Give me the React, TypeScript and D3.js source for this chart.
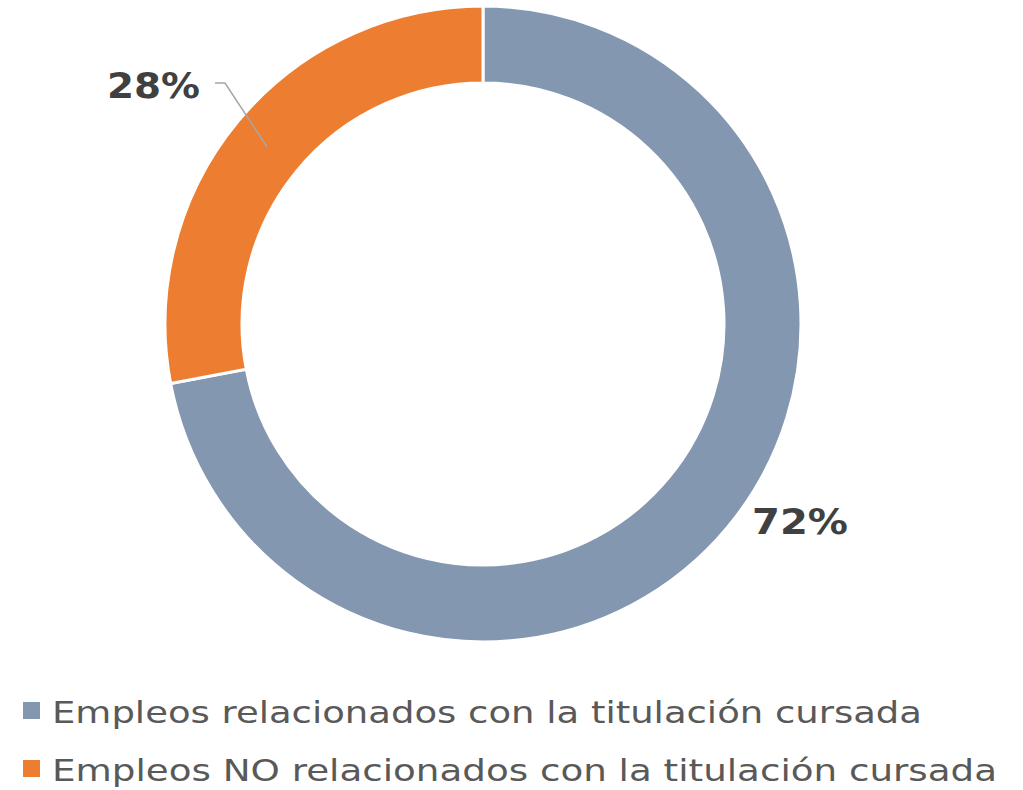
import { useMemo } from 'react'
import * as d3 from 'd3'

const categories = [
    'Empleos relacionados con la titulación cursada',
    'Empleos NO relacionados con la titulación cursada'
]
const values = [72, 28]
const labels = ['72%', '28%']
const colors = ['#8497B0', '#ED7D31']

const W = 1023
const H = 790
const cx = 483
const cy = 324
const outerR = 318
const innerR = 241
// widths of the legend lines in the original, which uses a wider face
const legendWidths = [870, 945]

export default function App() {
    const arcs = useMemo(
        () => d3.pie<number>().sort(null).value((d) => d)(values),
        []
    )
    const arcGen = d3
        .arc<d3.PieArcDatum<number>>()
        .innerRadius(innerR)
        .outerRadius(outerR)

    return (
        <svg
            width={W}
            height={H}
            style={{ position: 'absolute', left: 0, top: 0 }}
            fontFamily="'DejaVu Sans', Verdana, sans-serif"
        >
            <g transform={`translate(${cx},${cy})`}>
                {arcs.map((a, i) => (
                    <path
                        key={i}
                        d={arcGen(a) || ''}
                        fill={colors[i]}
                        stroke="#fff"
                        strokeWidth={3}
                    />
                ))}
            </g>
            {/* data labels */}
            <text
                x={752}
                y={534}
                fontSize={35}
                fontWeight="bold"
                fill="#404040"
                textLength={96}
                lengthAdjust="spacingAndGlyphs"
            >
                {labels[0]}
            </text>
            <polyline
                points="215,83 225,83 267,147"
                fill="none"
                stroke="#a6a6a6"
                strokeWidth={1.5}
            />
            <text
                x={107}
                y={98}
                fontSize={35}
                fontWeight="bold"
                fill="#404040"
                textLength={93}
                lengthAdjust="spacingAndGlyphs"
            >
                {labels[1]}
            </text>
            {/* legend */}
            {categories.map((c, i) => (
                <g key={c} transform={`translate(23,${702 + i * 58})`}>
                    <rect width={17} height={17} fill={colors[i]} />
                    <text
                        x={29}
                        y={21}
                        fontSize={30}
                        fill="#595959"
                        textLength={legendWidths[i]}
                        lengthAdjust="spacingAndGlyphs"
                    >
                        {c}
                    </text>
                </g>
            ))}
        </svg>
    )
}
